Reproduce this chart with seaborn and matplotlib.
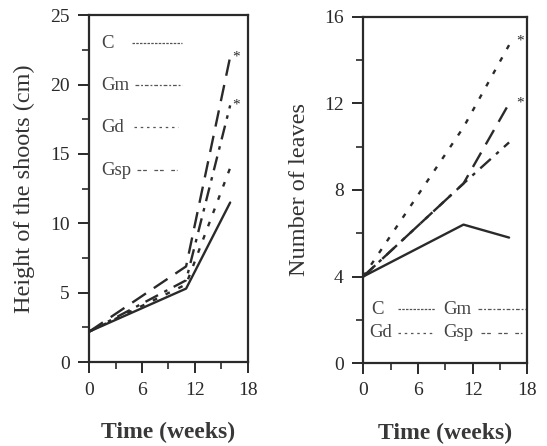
import matplotlib
matplotlib.use('Agg')
import matplotlib.pyplot as plt
import seaborn as sns
from matplotlib.ticker import MultipleLocator

# weeks at which the plants were measured
weeks = [0, 11, 16]

# height of the shoots (cm)
height_C = [2.2, 5.3, 11.5]
height_Gm = [2.2, 5.9, 18.5]
height_Gd = [2.2, 5.6, 14.0]
height_Gsp = [2.2, 6.9, 22.0]

# number of leaves
leaves_C = [4.0, 6.4, 5.8]
leaves_Gm = [4.0, 8.3, 10.2]
leaves_Gd = [4.0, 10.9, 14.7]
leaves_Gsp = [4.0, 8.3, 12.0]

# significant treatments (marked with *)
star_height = {'Gsp': 22.0, 'Gm': 18.5}
star_leaves = {'Gd': 14.9, 'Gsp': 12.0}

treatments = ['C', 'Gm', 'Gd', 'Gsp']
line_styles = {'C': '-', 'Gm': (0, (6, 3, 1.5, 3)), 'Gd': (0, (2, 4)), 'Gsp': (0, (7, 4))}
key_styles = {'C': (0, (2, 1)), 'Gm': (0, (3, 1.5, 1.5, 1.5)), 'Gd': (0, (2, 3)), 'Gsp': (0, (3, 1.5, 3, 6))}

sns.set_style('ticks')
plt.rcParams['font.family'] = ['Liberation Serif', 'DejaVu Serif']
ink = '#2a2a2a'

fig = plt.figure(figsize=(5.47, 4.46), dpi=100)
ax1 = fig.add_axes([0.163, 0.188, 0.290, 0.778])
ax2 = fig.add_axes([0.664, 0.186, 0.300, 0.776])

height_data = {'C': height_C, 'Gm': height_Gm, 'Gd': height_Gd, 'Gsp': height_Gsp}
leaves_data = {'C': leaves_C, 'Gm': leaves_Gm, 'Gd': leaves_Gd, 'Gsp': leaves_Gsp}

for name in treatments:
    sns.lineplot(x=weeks, y=height_data[name], ax=ax1, color=ink, lw=1.7,
                 linestyle=line_styles[name])
    sns.lineplot(x=weeks, y=leaves_data[name], ax=ax2, color=ink, lw=1.7,
                 linestyle=line_styles[name])

for name, val in star_height.items():
    ax1.text(16.7, val, '*', fontsize=11, color=ink, ha='center', va='center')
for name, val in star_leaves.items():
    ax2.text(17.2, val, '*', fontsize=11, color=ink, ha='center', va='center')

for ax in (ax1, ax2):
    ax.set_xlim(0, 18)
    ax.xaxis.set_major_locator(MultipleLocator(6))
    ax.xaxis.set_minor_locator(MultipleLocator(3))
    ax.tick_params(which='major', length=8, width=1.4, labelsize=14, colors=ink,
                   direction='out', pad=6)
    ax.tick_params(which='minor', length=5, width=1.2, direction='out', colors=ink)
    for sp in ax.spines.values():
        sp.set_visible(True)
        sp.set_linewidth(1.6)
        sp.set_color(ink)
    ax.set_xlabel('Time (weeks)', fontsize=17, fontweight='bold', color='#383838', labelpad=17)

ax1.set_ylim(0, 25)
ax1.yaxis.set_major_locator(MultipleLocator(5))
ax1.yaxis.set_minor_locator(MultipleLocator(2.5))
ax1.set_ylabel('Height of the shoots (cm)', fontsize=17.5, color='#333333', labelpad=11)

ax2.set_ylim(0, 16)
ax2.yaxis.set_major_locator(MultipleLocator(4))
ax2.yaxis.set_minor_locator(MultipleLocator(2))
ax2.set_ylabel('Number of leaves', fontsize=17.5, color='#333333', labelpad=10)


def draw_key(ax, name, tx, ty, x0, x1):
    # legend entry: label followed by a short sample of its line style
    ax.text(tx, ty, name, transform=ax.transAxes, fontsize=13.5, color='#444444',
            ha='left', va='center')
    ax.plot([x0, x1], [ty, ty], transform=ax.transAxes, color='#555555', lw=0.9,
            linestyle=key_styles[name])


# left panel: one column of keys
left_keys = {'C': (0.919, 0.27, 0.585), 'Gm': (0.798, 0.29, 0.585),
             'Gd': (0.677, 0.28, 0.56), 'Gsp': (0.553, 0.30, 0.555)}
for name in treatments:
    ty, x0, x1 = left_keys[name]
    draw_key(ax1, name, 0.075, ty, x0, x1)

# right panel: two columns of keys
right_keys = {'C': (0.05, 0.156, 0.21, 0.44), 'Gm': (0.49, 0.156, 0.70, 0.99),
              'Gd': (0.035, 0.087, 0.21, 0.42), 'Gsp': (0.49, 0.087, 0.72, 0.97)}
for name in treatments:
    tx, ty, x0, x1 = right_keys[name]
    draw_key(ax2, name, tx, ty, x0, x1)

fig.savefig('out.png', dpi=100)
